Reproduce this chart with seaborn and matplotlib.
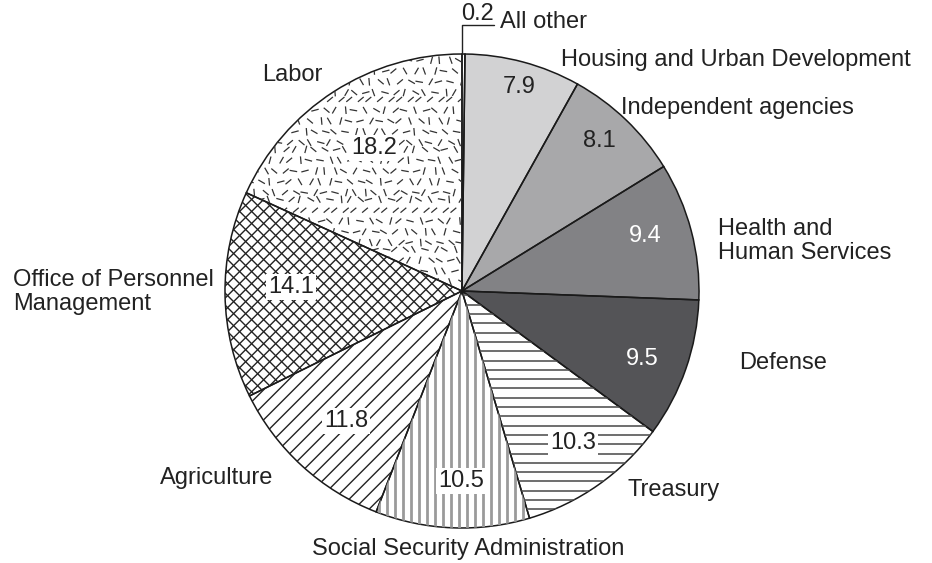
import matplotlib
matplotlib.use("Agg")
import matplotlib.pyplot as plt
from matplotlib.collections import LineCollection
import numpy as np
import seaborn as sns

# Data (clockwise from 12 o'clock)
agencies = ["All other", "Housing and Urban Development", "Independent agencies",
            "Health and\nHuman Services", "Defense", "Treasury",
            "Social Security Administration", "Agriculture",
            "Office of Personnel\nManagement", "Labor"]
shares = [0.2, 7.9, 8.1, 9.4, 9.5, 10.3, 10.5, 11.8, 14.1, 18.2]
value_labels = ["0.2", "7.9", "8.1", "9.4", "9.5", "10.3", "10.5", "11.8", "14.1", "18.2"]

# Styles
fills = ["white", "#d2d2d3", "#a8a8aa", "#828285", "#545457",
         "white", "white", "white", "white", "white"]
# (angles in degrees, spacing px, colour, linewidth) for line hatching
line_hatch = {5: ([0], 9.3, "#555555", 1.2),
              6: ([90], 8.0, "#9a9a9a", 2.0),
              7: ([45], 10.6, "#222222", 1.0),
              8: ([45, -45], 8.5, "#222222", 1.0)}
value_colors = ["#222", "#222", "#222", "white", "white", "#222", "#222", "#222", "#222", "#222"]
value_boxed = [False, False, False, False, False, True, True, True, True, True]

# Layout (image pixel coordinates, y down)
W, H = 932, 563
cx, cy, R = 462, 291, 237
FS = 17
value_pos = [None, (519, 87), (599, 141), (645, 236), (642, 359),
             (573, 443), (461, 481), (346, 421), (291, 287), (374, 148)]
name_pos = [(500, 22, "left"), (561, 60, "left"), (621, 108, "left"),
            (718, 241, "left"), (739, 363, "left"), (627, 490, "left"),
            (468, 549, "center"), (160, 478, "left"), (13, 292, "left"),
            (262, 75, "left")]

sns.set_style("white")
plt.rcParams["font.family"] = ["Liberation Sans", "DejaVu Sans"]

fig = plt.figure(figsize=(W / 100, H / 100), dpi=100)
ax = fig.add_axes([0, 0, 1, 1])

wedges, _ = ax.pie(shares, startangle=90, counterclock=False,
                   center=(cx, H - cy), radius=R, colors=fills,
                   wedgeprops=dict(linewidth=0))


def hatch_lines(angle_deg, spacing):
    # parallel lines covering the whole pie disc
    a = np.deg2rad(angle_deg)
    d = np.array([np.cos(a), np.sin(a)])
    nrm = np.array([-d[1], d[0]])
    c = np.array([cx, H - cy])
    out = []
    for k in np.arange(-R - spacing, R + spacing, spacing):
        p = c + nrm * k
        out.append([p - d * (R + 5), p + d * (R + 5)])
    return out


for idx, (angs, sp, col, lw) in line_hatch.items():
    segs = []
    for a in angs:
        segs += hatch_lines(a, sp)
    lc = LineCollection(segs, colors=col, linewidths=lw)
    ax.add_collection(lc)
    lc.set_clip_path(wedges[idx])

# speckled dash texture for Labor
angles = [-10, 95, 60, 140, 15, 110, 165, 40, 75, -30, 120]
segs = []
step, ln = 10.0, 3.8
for i, x in enumerate(np.arange(cx - R, cx + 1, step)):
    for j, y in enumerate(np.arange(H - cy, H - cy + R + step, step)):
        a = np.deg2rad(angles[(3 * i + 5 * j + i * j) % len(angles)])
        ox = x + (j % 2) * step / 2 + ((i * 7 + j * 3) % 5 - 2) * 0.8
        oy = y + ((i * 5 + j * 11) % 5 - 2) * 0.8
        segs.append([(ox - ln * np.cos(a), oy - ln * np.sin(a)),
                     (ox + ln * np.cos(a), oy + ln * np.sin(a))])
lc = LineCollection(segs, colors="#333333", linewidths=0.9)
ax.add_collection(lc)
lc.set_clip_path(wedges[-1])

# outlines on top
ax.pie(shares, startangle=90, counterclock=False,
       center=(cx, H - cy), radius=R, colors=["none"] * len(shares),
       wedgeprops=dict(linewidth=1.1, edgecolor="#1a1a1a"))

ax.set_xlim(0, W)
ax.set_ylim(0, H)
ax.set_aspect("equal")
ax.axis("off")

# values
for txt, pos, col, boxed in zip(value_labels, value_pos, value_colors, value_boxed):
    if pos is None:
        continue
    kw = {}
    if boxed:
        kw["bbox"] = dict(facecolor="white", edgecolor="none", pad=1.5)
    ax.text(pos[0], H - pos[1], txt, ha="center", va="center",
            fontsize=FS, color=col, zorder=5, **kw)

# names
for name, (x, y, ha) in zip(agencies, name_pos):
    ax.text(x, H - y, name, ha=ha, va="center", fontsize=FS,
            color="#222", linespacing=1.1)

# small slice leader
ax.plot([cx, cx, cx + 32], [H - cy + R, H - 25, H - 25], color="#222", lw=1.0)
ax.text(cx + 16, H - 14, value_labels[0], ha="center", va="center",
        fontsize=FS, color="#222")

fig.savefig("out.png", dpi=100)
